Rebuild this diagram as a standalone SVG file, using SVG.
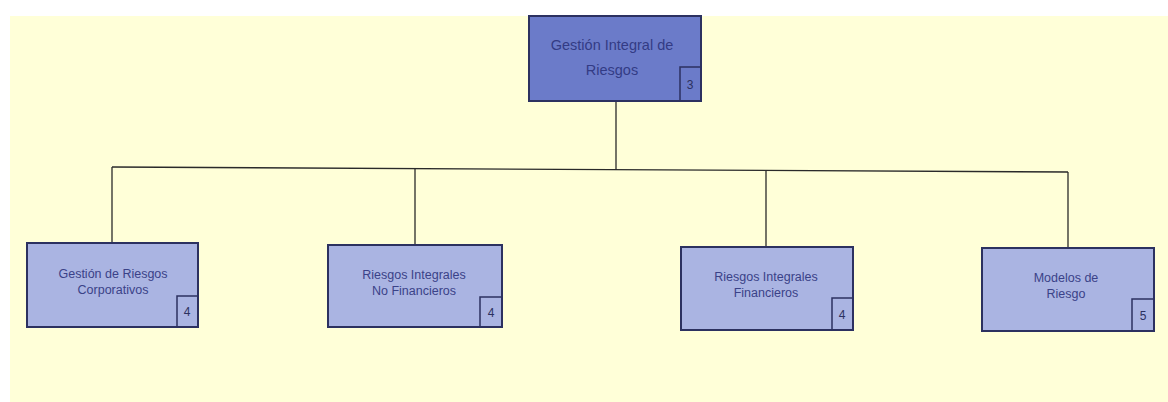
<svg xmlns="http://www.w3.org/2000/svg" width="1168" height="402" viewBox="0 0 1168 402">
<style>
.bg{fill:#FFFFD8}
.top{fill:#6B7BC9;stroke:#2C3160;stroke-width:2}
.child{fill:#AAB4E2;stroke:#2C3160;stroke-width:2}
.num{fill:none;stroke:#2C3160;stroke-width:1.5}
.lbl{font-family:"Liberation Sans",Arial,sans-serif;font-size:12.5px;fill:#3A4288;text-anchor:middle}
.tlbl{font-family:"Liberation Sans",Arial,sans-serif;font-size:14.5px;fill:#333B85;text-anchor:middle}
.n{font-family:"Liberation Sans",Arial,sans-serif;font-size:12px;fill:#2C3160;text-anchor:middle}
.conn{fill:none;stroke:#2A2A2A;stroke-width:1.3}
</style>
<rect x="0" y="0" width="1168" height="402" fill="#FFFFFF"/>
<rect class="bg" x="10" y="16" width="1158" height="386"/>
<g id="connectors">
<line class="conn" x1="616" y1="101" x2="616" y2="169"/>
<line class="conn" x1="112" y1="167" x2="1068" y2="172"/>
<line class="conn" x1="112" y1="167" x2="112" y2="243"/>
<line class="conn" x1="415" y1="169" x2="415" y2="245"/>
<line class="conn" x1="766" y1="171" x2="766" y2="247"/>
<line class="conn" x1="1068" y1="172" x2="1068" y2="248"/>
</g>
<g id="node-root">
<rect class="top" x="529" y="16" width="172" height="85"/>
<rect class="num" x="680" y="67" width="21" height="34"/>
<text class="tlbl" x="612" y="50">Gestión Integral de</text>
<text class="tlbl" x="612" y="75">Riesgos</text>
<text class="n" x="690" y="89">3</text>
</g>
<g id="node-corporativos">
<rect class="child" x="27" y="243" width="171" height="84"/>
<rect class="num" x="177" y="296" width="21" height="31"/>
<text class="lbl" x="113" y="278">Gestión de Riesgos</text>
<text class="lbl" x="113" y="294">Corporativos</text>
<text class="n" x="187" y="316">4</text>
</g>
<g id="node-no-financieros">
<rect class="child" x="328" y="245" width="174" height="82"/>
<rect class="num" x="480" y="297" width="22" height="30"/>
<text class="lbl" x="414" y="279">Riesgos Integrales</text>
<text class="lbl" x="414" y="295">No Financieros</text>
<text class="n" x="491" y="317">4</text>
</g>
<g id="node-financieros">
<rect class="child" x="681" y="247" width="172" height="83"/>
<rect class="num" x="832" y="298" width="21" height="32"/>
<text class="lbl" x="766" y="281">Riesgos Integrales</text>
<text class="lbl" x="766" y="297">Financieros</text>
<text class="n" x="842" y="319">4</text>
</g>
<g id="node-modelos">
<rect class="child" x="982" y="248" width="172" height="83"/>
<rect class="num" x="1132" y="299" width="22" height="32"/>
<text class="lbl" x="1066" y="282">Modelos de</text>
<text class="lbl" x="1066" y="298">Riesgo</text>
<text class="n" x="1143" y="320">5</text>
</g>
</svg>
